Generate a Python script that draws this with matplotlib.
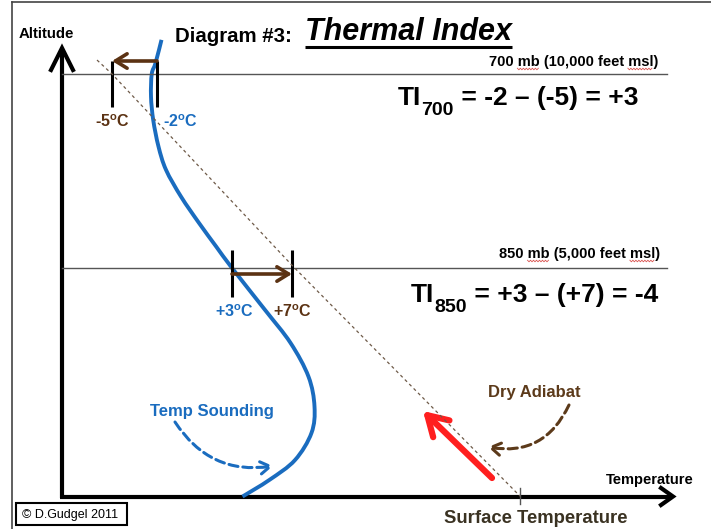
import matplotlib
matplotlib.use('Agg')
import matplotlib.pyplot as plt
from matplotlib.path import Path
from matplotlib.patches import PathPatch, Rectangle
from matplotlib.transforms import blended_transform_factory
from matplotlib.font_manager import FontProperties
import numpy as np

# ---------------- data ----------------
levels_mb = [700, 850]
level_alt_ft = [10000, 5000]
level_labels = ["700 mb (10,000 feet msl)", "850 mb (5,000 feet msl)"]
env_temp_c = [-2, 3]        # sounding temperature at each level
parcel_temp_c = [-5, 7]     # dry-adiabat (parcel) temperature at each level

sounding_temp_c = [-1.7, -2.1, -2.35, -2.4, -2.25, -1.9, -1.4, -0.4, 0.8, 1.95,
                   3.0, 5.2, 6.9, 8.1, 8.5, 8.3, 7.2, 5.5, 3.7]
sounding_alt_ft = [10880, 10280, 10000, 9420, 8810, 8130, 7530, 6840, 6160, 5550,
                   5000, 3920, 3070, 2200, 1430, 750, 50, -460, -890]

adiabat_temp_c = [-6.0, -5.0, 7.05, 22.2]
adiabat_alt_ft = [10360, 10000, 5050, -880]

surface_temp_c = 22.2
surface_alt_ft = -890

# ---------------- layout / style ----------------
W, H = 711, 529
PX_PER_C = 15.0
X0_PX = 187.0          # pixel column of 0 C
PX_PER_FT = 0.0388
Y0_PX = 462.0          # pixel row of 0 ft

BLUE = '#1a6cbf'
BROWN = '#5b3213'
RED = '#ff1f1f'

def px2ft(p):
    return p / PX_PER_FT

plt.rcParams['font.family'] = ['Liberation Sans', 'DejaVu Sans']
plt.rcParams['mathtext.fontset'] = 'custom'
plt.rcParams['mathtext.rm'] = 'Liberation Sans'
plt.rcParams['mathtext.bf'] = 'Liberation Sans:bold'
plt.rcParams['mathtext.it'] = 'Liberation Sans:italic'

fig = plt.figure(figsize=(W / 100, H / 100), dpi=100)
ov = fig.add_axes([0, 0, 1, 1])
ov.set_xlim(0, W)
ov.set_ylim(H, 0)
ov.axis('off')

ax = fig.add_axes([0, 0, 1, 1])
ax.set_xlim(-X0_PX / PX_PER_C, (W - X0_PX) / PX_PER_C)
ax.set_ylim((Y0_PX - H) / PX_PER_FT, Y0_PX / PX_PER_FT)
ax.axis('off')

bx = blended_transform_factory(ov.transData, ax.transData)
renderer = fig.canvas.get_renderer()

# outer frame
ov.plot([12, 12], [H, 2], color='#444444', lw=1.2)
ov.plot([12, W], [2, 2], color='#444444', lw=1.2)

# titles
ov.text(19, 38, 'Altitude', fontsize=10.8, fontweight='bold', ha='left', va='baseline')
ov.text(175, 42, 'Diagram #3:', fontsize=14.7, fontweight='bold', ha='left', va='baseline')
ov.text(305, 40, 'Thermal Index', fontsize=22, fontweight='bold', style='italic',
        ha='left', va='baseline')
ov.plot([305, 512], [46.5, 46.5], color='black', lw=2.2, solid_capstyle='butt')

# main axes arrows
ov.plot([62, 62], [498, 49], color='black', lw=3, solid_capstyle='butt')
ov.plot([51, 62, 73], [70, 48, 70], color='black', lw=3, solid_joinstyle='miter')
ov.plot([60, 672], [496.5, 496.5], color='black', lw=3, solid_capstyle='butt')
ov.plot([661, 673, 661], [488, 496.5, 505], color='black', lw=3, solid_joinstyle='miter')
ov.text(650, 484, 'Temperature', fontsize=10.5, fontweight='bold', ha='center', va='baseline')
ov.text(536, 523, 'Surface Temperature', fontsize=13.3, fontweight='bold', color='#3a3222',
        ha='center', va='baseline')

# pressure levels
level_text_x = [658, 660]
level_text_gap = [8, 10]
ti_x = [398, 411]
ti_gap = [31, 34]
arrow_off = [13, -6]
tick_up = [13, 18]
tick_down = [33, 29]
label_gap = [53, 49]
env_label_ha = ['left', 'center']
env_label_dx = [6, 2]
lab_fs = 10.5
lab_prop = FontProperties(family='Liberation Sans', weight='bold', size=lab_fs)


def text_w(s):
    return renderer.get_text_width_height_descent(s, lab_prop, ismath=False)[0]


for i, (mb, alt, lab, env, par) in enumerate(zip(levels_mb, level_alt_ft, level_labels,
                                                   env_temp_c, parcel_temp_c)):
    ax.plot([62, 667], [alt, alt], transform=bx, color='#555555', lw=1.0)
    y_lab = alt + px2ft(level_text_gap[i])
    ax.text(level_text_x[i], y_lab, lab, transform=bx,
            fontsize=lab_fs, fontweight='bold', ha='right', va='baseline')
    # spell-check squiggles under "mb" and "msl"
    full_w = text_w(lab)
    x_start = level_text_x[i] - full_w
    for word in ('mb', 'msl'):
        k = lab.index(word) + len(word)
        x1 = x_start + text_w(lab[:k])
        x0 = x1 - text_w(word)
        xs = np.arange(x0, x1 + 0.01, 1.5)
        ys = y_lab - px2ft(3.0) + px2ft(0.8) * np.where(np.arange(len(xs)) % 2 == 0, 1, -1)
        ax.plot(xs, ys, transform=bx, color='#d9534f', lw=0.6)

    # thermal index equation  TI_{mb} = env - (parcel) = result
    y_ti = alt - px2ft(ti_gap[i])
    t1 = ax.text(ti_x[i], y_ti, 'TI', transform=bx, fontsize=19, fontweight='bold',
                 ha='left', va='baseline')
    t2 = ax.annotate(str(mb), xy=(1, y_ti - px2ft(10)), xycoords=(t1, bx), fontsize=14,
                     fontweight='bold', ha='left', va='baseline')
    ax.annotate(f" = {env:+d} \u2013 ({par:+d}) = {env - par:+d}", xy=(1, y_ti),
                xycoords=(t2, bx), fontsize=19, fontweight='bold', ha='left', va='baseline')

    for t in (env, par):
        ax.plot([t, t], [alt + px2ft(tick_up[i]), alt - px2ft(tick_down[i])],
                color='black', lw=2.2, solid_capstyle='butt')
    ya = alt + px2ft(arrow_off[i])
    ax.annotate('', xy=(par, ya), xytext=(env, ya),
                arrowprops=dict(arrowstyle='->,head_length=0.42,head_width=0.26',
                                mutation_scale=20, lw=2.6, color=BROWN,
                                shrinkA=0, shrinkB=0))
    yl = alt - px2ft(label_gap[i])
    ax.text(par, yl, f"{par:+d}" + r"$^{\mathbf{o}}$C", fontsize=11.5, fontweight='bold',
            color=BROWN, ha='center', va='baseline')
    ax.text(env + env_label_dx[i] / PX_PER_C, yl, f"{env:+d}" + r"$^{\mathbf{o}}$C",
            fontsize=11.5, fontweight='bold', color=BLUE, ha=env_label_ha[i], va='baseline')

# dry adiabat
ax.plot(adiabat_temp_c, adiabat_alt_ft, color='#6e5a48', lw=0.9, ls=(0, (2.5, 2.5)))
ax.plot([surface_temp_c] * 2, [surface_alt_ft + px2ft(9), surface_alt_ft - px2ft(7)],
        color='#555555', lw=1.0)

# sounding curve (smooth through the read points)
pts = np.column_stack([sounding_temp_c, sounding_alt_ft]).astype(float)
P = np.vstack([pts[0], pts, pts[-1]])
verts = [pts[0]]
codes = [Path.MOVETO]
for k in range(1, len(P) - 2):
    p0, p1, p2, p3 = P[k - 1], P[k], P[k + 1], P[k + 2]
    verts += [p1 + (p2 - p0) / 6.0, p2 - (p3 - p1) / 6.0, p2]
    codes += [Path.CURVE4] * 3
ax.add_patch(PathPatch(Path(verts, codes), fill=False, edgecolor=BLUE, lw=2.8,
                       capstyle='butt'))

# annotations
ov.text(212, 416, 'Temp Sounding', fontsize=12, fontweight='bold', color=BLUE,
        ha='center', va='baseline')
ov.annotate('', xy=(273, 466), xytext=(175, 422),
            arrowprops=dict(arrowstyle='->,head_length=0.35,head_width=0.22',
                            mutation_scale=20, lw=2.2, color=BLUE, ls=(0, (3, 1.6)),
                            connectionstyle='arc3,rad=0.32', shrinkA=0, shrinkB=0))
ov.text(534, 397, 'Dry Adiabat', fontsize=12, fontweight='bold', color='#5c3a1a',
        ha='center', va='baseline')
ov.annotate('', xy=(488, 447), xytext=(569, 405),
            arrowprops=dict(arrowstyle='->,head_length=0.35,head_width=0.22',
                            mutation_scale=20, lw=2.2, color='#5c3a1a', ls=(0, (3, 1.6)),
                            connectionstyle='arc3,rad=-0.38', shrinkA=0, shrinkB=0))
ov.annotate('', xy=(423, 411), xytext=(492, 478),
            arrowprops=dict(arrowstyle='->,head_length=0.7,head_width=0.42',
                            mutation_scale=20, lw=4.5, color=RED,
                            shrinkA=0, shrinkB=0))

# copyright box
ov.add_patch(Rectangle((16, 503), 111, 22, facecolor='white', edgecolor='black', lw=1.5))
ov.text(22, 518, '\u00a9 D.Gudgel 2011', fontsize=9, ha='left', va='baseline')

fig.savefig('out.png', dpi=100)
